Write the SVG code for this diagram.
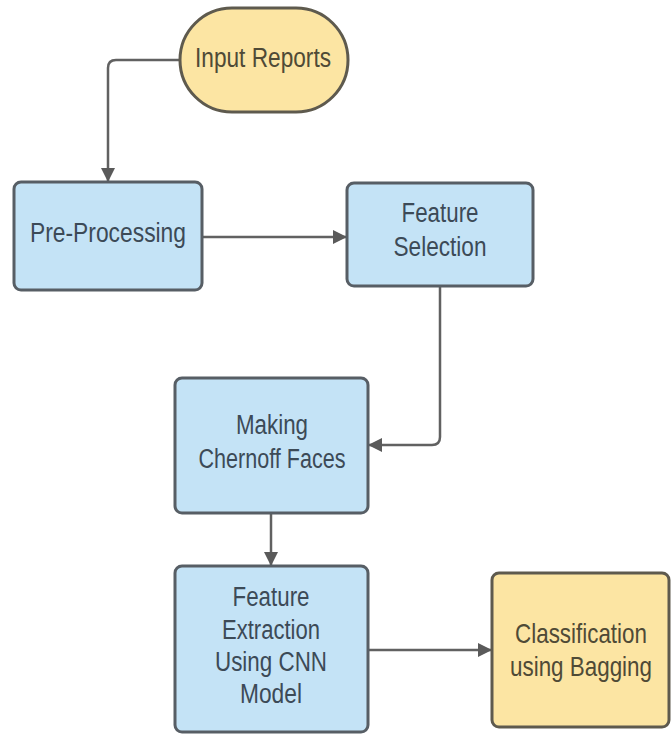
<svg xmlns="http://www.w3.org/2000/svg" width="672" height="735" viewBox="0 0 672 735">
  <defs>
    <style>
      .box-blue { fill: #c4e3f6; stroke: #575e65; stroke-width: 3; }
      .box-yellow { fill: #fce5a3; stroke: #5e5a4e; stroke-width: 3; }
      .lbl { font-family: "Liberation Sans", Arial, sans-serif; font-size: 27px; text-anchor: middle; }
      .lbl-blue { fill: #3c4a57; }
      .lbl-yellow { fill: #4f4a36; }
      .edge { fill: none; stroke: #616161; stroke-width: 2.5; }
    </style>
    <marker id="arrow" viewBox="0 0 14 14" refX="13" refY="7" markerWidth="14" markerHeight="14" markerUnits="userSpaceOnUse" orient="auto">
      <path d="M0,0 L14,7 L0,14 Z" fill="#5a5a5a"/>
    </marker>
  </defs>

  <rect width="672" height="735" fill="#ffffff"/>

  <g id="connectors">
    <path class="edge" d="M180,60 H116 Q108,60 108,68 V181" marker-end="url(#arrow)"/>
    <path class="edge" d="M202,237 H346" marker-end="url(#arrow)"/>
    <path class="edge" d="M440,286 V437 Q440,445 432,445 H369" marker-end="url(#arrow)"/>
    <path class="edge" d="M271,513 V565" marker-end="url(#arrow)"/>
    <path class="edge" d="M368,650 H491" marker-end="url(#arrow)"/>
  </g>

  <g id="input-reports">
    <rect class="box-yellow" x="180" y="8" width="168" height="104" rx="52" ry="52"/>
    <text class="lbl lbl-yellow" x="263" y="67" textLength="136" lengthAdjust="spacingAndGlyphs">Input Reports</text>
  </g>

  <g id="pre-processing">
    <rect class="box-blue" x="14" y="182" width="188" height="108" rx="7"/>
    <text class="lbl lbl-blue" x="108" y="242" textLength="156" lengthAdjust="spacingAndGlyphs">Pre-Processing</text>
  </g>

  <g id="feature-selection">
    <rect class="box-blue" x="347" y="183" width="186" height="103" rx="7"/>
    <text class="lbl lbl-blue" x="440" y="222" textLength="77" lengthAdjust="spacingAndGlyphs">Feature</text>
    <text class="lbl lbl-blue" x="440" y="256" textLength="93" lengthAdjust="spacingAndGlyphs">Selection</text>
  </g>

  <g id="chernoff-faces">
    <rect class="box-blue" x="175" y="378" width="193" height="135" rx="7"/>
    <text class="lbl lbl-blue" x="272" y="434" textLength="72" lengthAdjust="spacingAndGlyphs">Making</text>
    <text class="lbl lbl-blue" x="272" y="468" textLength="147" lengthAdjust="spacingAndGlyphs">Chernoff Faces</text>
  </g>

  <g id="feature-extraction">
    <rect class="box-blue" x="175" y="566" width="193" height="166" rx="7"/>
    <text class="lbl lbl-blue" x="271" y="606" textLength="77" lengthAdjust="spacingAndGlyphs">Feature</text>
    <text class="lbl lbl-blue" x="271" y="639" textLength="98" lengthAdjust="spacingAndGlyphs">Extraction</text>
    <text class="lbl lbl-blue" x="271" y="671" textLength="112" lengthAdjust="spacingAndGlyphs">Using CNN</text>
    <text class="lbl lbl-blue" x="271" y="703" textLength="62" lengthAdjust="spacingAndGlyphs">Model</text>
  </g>

  <g id="classification">
    <rect class="box-yellow" x="492" y="573" width="177" height="154" rx="7"/>
    <!-- condensed labels: horizontal scale instead of textLength -->
    <g transform="translate(581,0) scale(0.83,1)">
      <text class="lbl lbl-yellow" x="0" y="643">Classification</text>
      <text class="lbl lbl-yellow" x="0" y="676">using Bagging</text>
    </g>
  </g>
</svg>
